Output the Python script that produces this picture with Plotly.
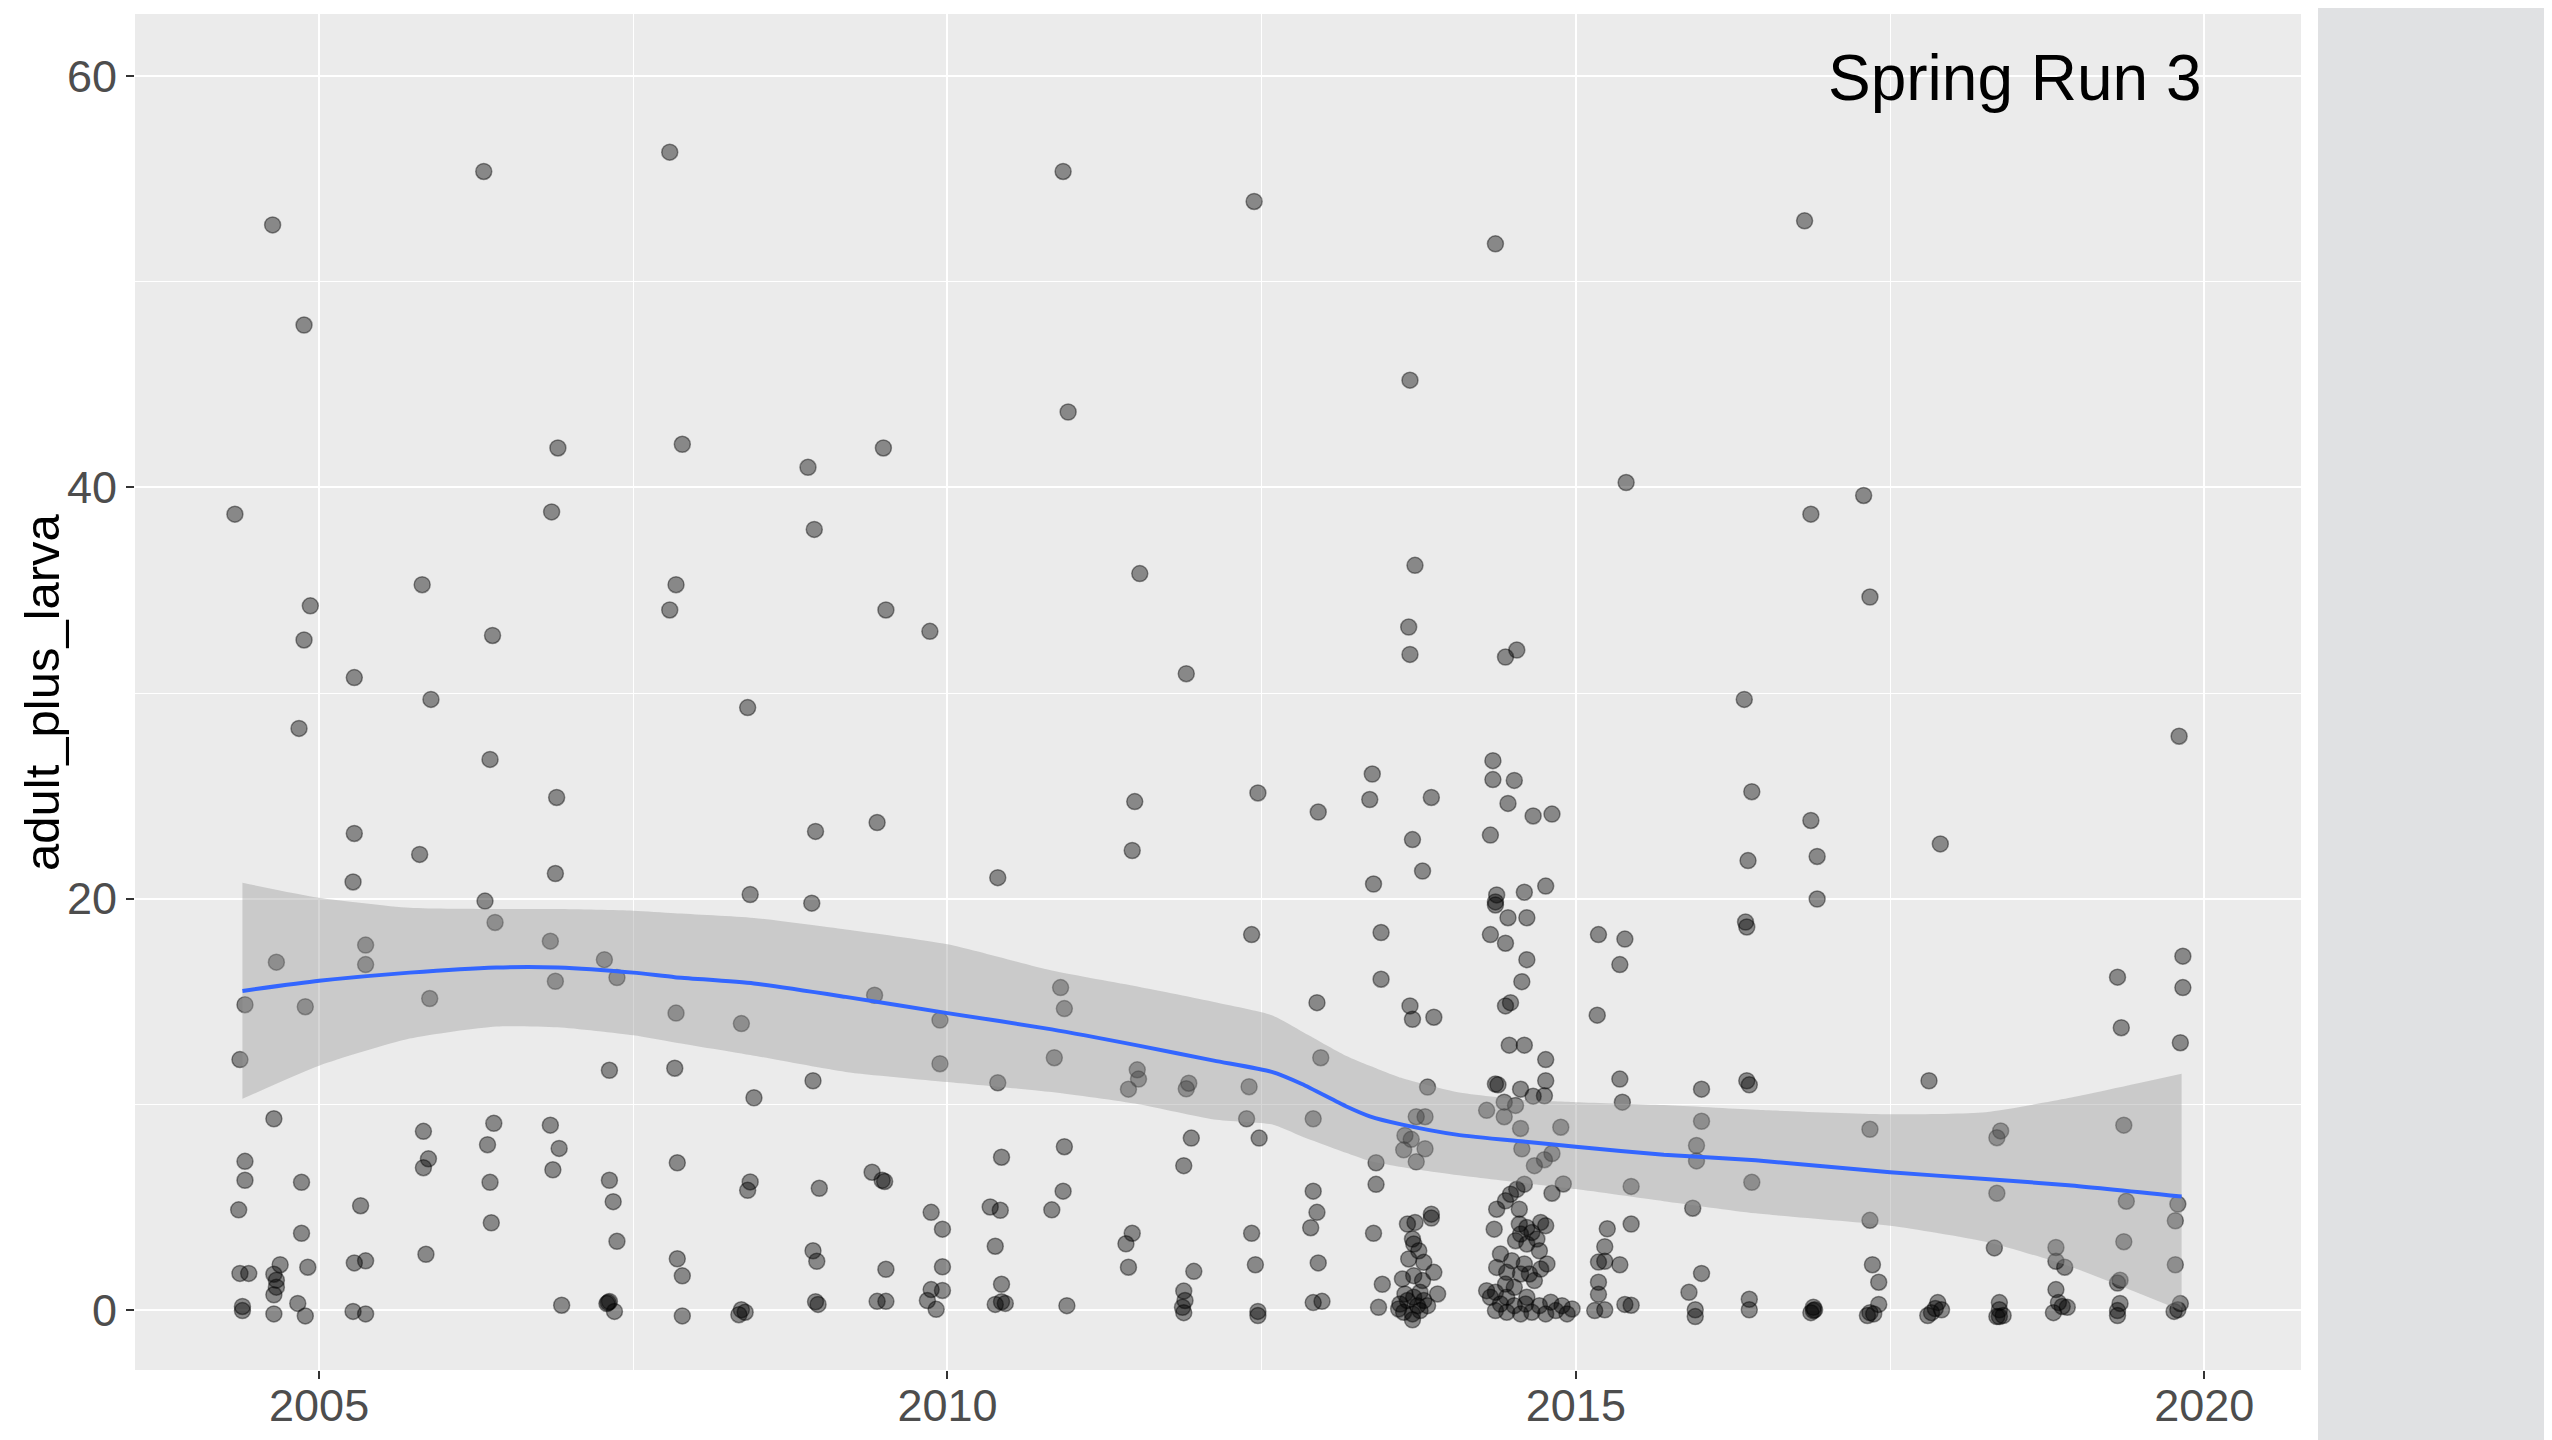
import plotly.graph_objects as go

# ---------------- data ----------------
point_year = [
    # upper part, 2004-2012
    2004.63, 2006.31, 2007.79, 2010.92, 2004.88, 2010.96, 2006.90, 2007.89, 2008.89, 2009.49,
    2004.33, 2006.85, 2008.94, 2011.53, 2005.82, 2007.84, 2004.93, 2007.79, 2009.51, 2009.86,
    2004.88, 2006.38, 2005.28, 2011.90, 2005.89, 2008.41, 2004.84,
    # upper part, 2012-2020
    2012.44, 2014.36, 2016.82, 2013.68, 2015.40, 2017.29, 2016.87, 2013.72, 2017.34, 2013.67,
    2013.68, 2014.44, 2014.53, 2016.34, 2019.80,
    # lower part, 2004-2008
    2006.36, 2006.89, 2005.28, 2005.80, 2006.88, 2005.27, 2006.32, 2006.40, 2005.37, 2005.37,
    2004.66, 2006.84, 2007.27, 2007.37, 2006.88, 2004.41, 2004.89, 2005.88, 2004.37, 2007.31,
    2004.64, 2005.83, 2006.39, 2006.84, 2004.41, 2004.41, 2006.34, 2006.91, 2005.87, 2005.83,
    2006.86, 2004.86, 2006.36, 2007.31, 2007.34, 2004.36, 2005.33, 2006.37, 2004.86, 2007.37,
    2005.85, 2004.37, 2004.44, 2004.69, 2004.64, 2004.66, 2004.66, 2004.64, 2004.91, 2005.28,
    2005.37, 2004.39, 2004.39, 2004.64, 2004.83, 2004.89, 2005.27, 2005.37, 2006.93, 2007.30,
    2007.31, 2007.29, 2007.35,
    # lower part, 2008-2012
    2011.49, 2011.47, 2008.95, 2009.44, 2010.40, 2008.43, 2008.92, 2010.90, 2010.93, 2009.42,
    2007.84, 2008.36, 2009.94, 2009.94, 2010.85, 2007.83, 2008.93, 2010.40, 2008.46, 2011.51,
    2011.52, 2011.44, 2011.92, 2011.90, 2011.94, 2010.93, 2010.43, 2011.88, 2007.85, 2008.43,
    2008.41, 2008.98, 2009.40, 2009.48, 2009.50, 2010.92, 2009.87, 2009.96, 2010.34, 2010.42,
    2010.83, 2010.38, 2011.47, 2011.42, 2011.44, 2011.96, 2007.85, 2007.89, 2008.93, 2008.96,
    2009.51, 2009.96, 2010.43, 2009.87, 2009.96, 2009.84, 2009.91, 2007.89, 2008.36, 2008.39,
    2008.34, 2008.95, 2008.97, 2009.44, 2009.51, 2010.38, 2010.43, 2010.46, 2010.95, 2011.88,
    2011.89, 2011.87, 2011.88,
    # lower part, 2012-2016.5
    2012.47, 2012.95, 2013.38, 2013.36, 2013.85, 2014.34, 2014.34, 2014.51, 2014.46, 2014.66,
    2014.81, 2013.70, 2014.32, 2013.78, 2013.39, 2014.37, 2014.36, 2014.36, 2014.59, 2014.76,
    2014.46, 2014.61, 2012.42, 2013.45, 2014.32, 2014.44, 2014.61, 2014.57, 2013.45, 2012.94,
    2013.68, 2013.70, 2013.87, 2014.44, 2014.48, 2015.18, 2015.39, 2015.35, 2015.17, 2016.40,
    2016.37, 2016.35, 2016.36, 2014.47, 2014.59, 2012.97, 2014.76, 2012.40, 2013.82, 2014.36,
    2014.38, 2014.56, 2014.76, 2014.66, 2014.75, 2014.43, 2014.52, 2014.29, 2014.43, 2015.35,
    2015.37, 2016.00, 2016.36, 2016.38, 2012.38, 2012.91, 2012.48, 2013.73, 2013.80, 2013.64,
    2013.69, 2013.63, 2013.80, 2013.73, 2014.56, 2014.57, 2014.88, 2016.00, 2015.96, 2015.96,
    2014.81, 2014.75, 2014.67, 2013.41, 2013.41, 2012.91, 2012.94, 2012.89, 2012.42, 2013.39,
    2012.45, 2012.95, 2012.91, 2012.98, 2012.47, 2012.47, 2013.46, 2013.43, 2014.90, 2014.81,
    2015.44, 2015.93, 2016.40, 2015.25, 2015.44, 2015.23, 2015.23, 2015.18, 2015.35, 2015.18,
    2015.18, 2015.15, 2015.23, 2015.39, 2015.44, 2016.00, 2015.90, 2015.95, 2015.95, 2016.38,
    2016.38,
    # dense cluster, late 2013
    2013.85, 2013.85, 2013.66, 2013.72, 2013.70, 2013.71, 2013.75, 2013.67, 2013.79, 2013.87,
    2013.62, 2013.71, 2013.78, 2013.90, 2013.64, 2013.76, 2013.60, 2013.66, 2013.71, 2013.79,
    2013.82, 2013.63, 2013.70, 2013.76, 2013.70, 2013.59, 2013.74,
    # dense cluster, 2014
    2014.59, 2014.53, 2014.48, 2014.44, 2014.37, 2014.55, 2014.35, 2014.55, 2014.61, 2014.72,
    2014.76, 2014.56, 2014.65, 2014.69, 2014.52, 2014.61, 2014.40, 2014.71, 2014.49, 2014.59,
    2014.77, 2014.72, 2014.37, 2014.45, 2014.56, 2014.67, 2014.63, 2014.29, 2014.36, 2014.44,
    2014.51, 2014.36, 2014.40, 2014.45, 2014.51, 2014.56, 2014.60, 2014.65, 2014.71, 2014.76,
    2014.80, 2014.84, 2014.89, 2014.93, 2014.61, 2014.45, 2014.32, 2014.97,
    # lower part, 2016.5-2020
    2016.87, 2016.92, 2016.92, 2017.90, 2019.83, 2019.31, 2019.83, 2019.34, 2019.81, 2017.81,
    2017.34, 2018.38, 2018.35, 2019.36, 2018.35, 2019.38, 2019.79, 2019.77, 2017.34, 2017.36,
    2017.41, 2017.41, 2018.33, 2018.82, 2018.82, 2018.89, 2019.36, 2019.33, 2019.31, 2019.77,
    2019.33, 2019.31, 2019.31, 2019.81, 2019.79, 2019.76, 2018.82, 2018.84, 2018.87, 2018.91,
    2018.80, 2016.89, 2016.89, 2016.87, 2016.90, 2017.34, 2017.37, 2017.32, 2017.88, 2017.86,
    2017.91, 2017.80, 2017.83, 2018.37, 2018.37, 2018.35, 2018.40, 2018.37,
]

adult_plus_larva = [
    # upper part, 2004-2012
    52.77, 55.37, 56.31, 55.37, 47.90, 43.67, 41.92, 42.10, 40.98, 41.92,
    38.70, 38.81, 37.96, 35.81, 35.27, 35.27, 34.24, 34.04, 34.04, 33.00,
    32.58, 32.80, 30.75, 30.94, 29.69, 29.29, 28.28,
    # upper part, 2012-2020
    53.91, 51.85, 52.97, 45.22, 40.24, 39.61, 38.70, 36.21, 34.67, 33.21,
    31.88, 31.75, 32.09, 29.69, 27.90,
    # lower part, 2004-2008
    26.77, 24.92, 23.17, 22.15, 21.22, 20.81, 19.88, 18.84, 17.74, 16.79,
    16.91, 17.93, 17.03, 16.16, 15.98, 14.84, 14.74, 15.14, 12.17, 11.65,
    9.29, 8.68, 9.07, 8.98, 7.22, 6.30, 8.03, 7.85, 7.34, 6.91,
    6.81, 6.20, 6.20, 6.30, 5.26, 4.86, 5.06, 4.23, 3.72, 3.33,
    2.70, 1.77, 1.77, 2.19, 1.73, 1.44, 1.10, 0.73, 2.07, 2.28,
    2.38, 0.16, -0.04, -0.20, 0.31, -0.30, -0.08, -0.20, 0.22, 0.35,
    0.40, 0.30, -0.08,
    # lower part, 2008-2012
    24.72, 22.34, 23.27, 23.70, 21.02, 20.20, 19.78, 15.67, 14.65, 15.30,
    14.43, 13.92, 14.09, 11.97, 12.26, 11.75, 11.14, 11.04, 10.31, 11.67,
    11.22, 10.73, 11.02, 10.75, 8.35, 7.93, 7.42, 7.01, 7.15, 6.22,
    5.81, 5.91, 6.69, 6.30, 6.24, 5.77, 4.74, 3.92, 5.00, 4.84,
    4.86, 3.09, 3.72, 3.21, 2.07, 1.87, 2.48, 1.65, 2.87, 2.36,
    1.97, 2.09, 1.24, 0.98, 0.94, 0.45, 0.02, -0.30, 0.00, -0.12,
    -0.24, 0.39, 0.26, 0.41, 0.41, 0.26, 0.39, 0.31, 0.20, 0.91,
    0.45, 0.12, -0.14,
    # lower part, 2012-2016.5
    25.14, 24.21, 26.06, 24.82, 24.92, 26.71, 25.79, 25.75, 24.63, 24.02,
    24.11, 22.87, 23.09, 21.34, 20.71, 20.18, 19.84, 19.69, 20.31, 20.61,
    19.07, 19.07, 18.25, 18.35, 18.25, 17.83, 17.03, 15.96, 16.08, 14.94,
    14.78, 14.13, 14.23, 14.78, 14.94, 18.25, 18.03, 16.79, 14.33, 25.20,
    21.85, 18.86, 18.62, 12.87, 12.87, 12.26, 12.17, 10.85, 10.83, 10.98,
    10.94, 10.73, 11.14, 10.39, 10.41, 10.10, 9.94, 9.70, 9.39, 11.22,
    10.10, 10.73, 11.14, 10.94, 9.29, 9.29, 8.35, 9.39, 9.39, 8.48,
    8.29, 7.78, 7.83, 7.20, 8.82, 7.83, 8.88, 9.17, 7.99, 7.24,
    7.60, 7.30, 7.01, 7.15, 6.10, 5.77, 4.74, 3.99, 3.72, 3.72,
    2.19, 2.28, 0.35, 0.41, -0.08, -0.28, 1.24, 0.12, 6.12, 5.67,
    6.00, 4.94, 6.20, 3.94, 4.17, 3.07, 2.36, 2.32, 2.19, 1.34,
    0.75, -0.04, 0.00, 0.26, 0.22, 1.77, 0.85, 0.00, -0.33, 0.51,
    0.00,
    # dense cluster, late 2013
    4.65, 4.46, 4.17, 4.25, 3.44, 3.20, 2.87, 2.47, 2.31, 1.82,
    1.50, 1.66, 1.42, 0.77, 0.77, 0.85, 0.28, 0.45, 0.61, 0.45,
    0.20, -0.12, -0.20, -0.04, -0.49, 0.04, 0.20,
    # dense cluster, 2014
    6.11, 5.86, 5.62, 5.30, 4.89, 4.89, 3.92, 4.17, 4.00, 4.25,
    4.09, 3.68, 3.76, 3.44, 3.36, 3.20, 2.71, 2.87, 2.39, 2.23,
    2.23, 1.98, 2.06, 1.82, 1.74, 1.42, 1.74, 0.93, 0.85, 1.25,
    1.09, -0.04, 0.28, -0.12, 0.20, -0.20, 0.28, -0.12, 0.20, -0.20,
    0.37, -0.04, 0.20, -0.20, 0.61, 0.61, 0.61, 0.04,
    # lower part, 2016.5-2020
    23.80, 22.05, 19.98, 22.66, 17.20, 16.18, 15.67, 13.72, 12.99, 11.14,
    8.78, 8.70, 8.37, 8.98, 5.67, 5.28, 5.14, 4.33, 4.35, 2.19,
    1.34, 0.26, 3.01, 3.03, 2.36, 2.07, 3.31, 1.44, 1.30, 2.19,
    0.31, -0.04, -0.28, 0.30, 0.00, -0.08, 0.98, 0.35, 0.16, 0.12,
    -0.14, 0.12, -0.04, -0.14, 0.00, -0.14, -0.20, -0.28, 0.35, 0.06,
    0.00, -0.28, -0.14, 0.35, -0.33, -0.33, -0.28, 0.00,
]

# loess smooth and its confidence band
smooth_year = [2004.39, 2005.00, 2005.72, 2006.41, 2006.90, 2007.50, 2007.83, 2008.46, 2009.19,
               2010.00, 2010.83, 2011.52, 2012.12, 2012.58, 2012.82, 2013.17, 2013.36, 2013.61,
               2014.05, 2014.60, 2015.00, 2015.70, 2016.43, 2017.50, 2018.26, 2018.92, 2019.82]
smooth_fit = [15.51, 16.00, 16.40, 16.65, 16.65, 16.40, 16.18, 15.87, 15.22,
              14.43, 13.64, 12.85, 12.12, 11.57, 10.98, 9.90, 9.41, 9.02,
              8.52, 8.17, 7.93, 7.54, 7.27, 6.69, 6.36, 6.06, 5.51]
smooth_hi = [20.77, 20.04, 19.55, 19.49, 19.49, 19.41, 19.29, 19.06, 18.50,
             17.78, 16.50, 15.71, 14.97, 14.33, 13.54, 12.36, 11.87, 11.28,
             10.59, 10.20, 10.10, 9.96, 9.73, 9.51, 9.61, 10.30, 11.48]
smooth_lo = [10.26, 11.87, 13.19, 13.78, 13.74, 13.35, 13.00, 12.36, 11.57,
             11.08, 10.59, 10.00, 9.26, 9.02, 8.43, 7.64, 7.24, 6.95,
             6.56, 6.16, 5.87, 5.28, 4.69, 4.09, 3.31, 2.13, -0.04]

x_tick_vals = [2005, 2010, 2015, 2020]
y_tick_vals = [0, 20, 40, 60]
panel_label = "Spring Run 3"
y_label = "adult_plus_larva"

# ---------------- figure ----------------
FONT = "Liberation Sans, Arial, sans-serif"
# the page body has an 8px default margin, so the figure is 8px smaller
FIG_W, FIG_H = 2544, 1432
M_L, M_R, M_T, M_B = 127, 251, 6, 70
PLOT_W = FIG_W - M_L - M_R
PLOT_H = FIG_H - M_T - M_B

fig = go.Figure()

fig.add_trace(go.Scatter(
    x=point_year, y=adult_plus_larva, mode="markers",
    marker=dict(size=16, color="rgba(0,0,0,0.42)",
                line=dict(color="rgba(0,0,0,0.42)", width=1.5)),
    hoverinfo="x+y", showlegend=False,
))

fig.add_trace(go.Scatter(
    x=smooth_year, y=smooth_lo, mode="lines",
    line=dict(width=0, color="rgba(0,0,0,0)", shape="spline", smoothing=0.6),
    showlegend=False, hoverinfo="skip",
))
fig.add_trace(go.Scatter(
    x=smooth_year, y=smooth_hi, mode="lines", fill="tonexty",
    fillcolor="rgba(153,153,153,0.4)",
    line=dict(width=0, color="rgba(0,0,0,0)", shape="spline", smoothing=0.6),
    showlegend=False, hoverinfo="skip",
))
fig.add_trace(go.Scatter(
    x=smooth_year, y=smooth_fit, mode="lines",
    line=dict(color="#3366FF", width=4, shape="spline", smoothing=0.6),
    showlegend=False, hoverinfo="skip",
))

fig.update_layout(
    width=FIG_W, height=FIG_H,
    margin=dict(l=M_L, r=M_R, t=M_T, b=M_B, autoexpand=False),
    paper_bgcolor="white",
    plot_bgcolor="#EBEBEB",
    font=dict(family=FONT, color="#4D4D4D"),
    showlegend=False,
)

fig.update_xaxes(
    range=[2003.535, 2020.77],
    tickmode="array", tickvals=x_tick_vals, ticktext=[str(v) for v in x_tick_vals],
    ticks="outside", ticklen=8, tickwidth=2, tickcolor="#333333",
    tickfont=dict(size=45, color="#4D4D4D", family=FONT),
    ticklabelstandoff=-12,
    showgrid=True, gridcolor="white", gridwidth=2.2,
    minor=dict(tickmode="array", tickvals=[2002.5, 2007.5, 2012.5, 2017.5],
               showgrid=True, gridcolor="white", gridwidth=1.1, ticks=""),
    zeroline=False, showline=False, automargin=False,
)
fig.update_yaxes(
    range=[-2.93, 63.03],
    tickmode="array", tickvals=y_tick_vals, ticktext=[str(v) for v in y_tick_vals],
    ticks="outside", ticklen=8, tickwidth=2, tickcolor="#333333",
    tickfont=dict(size=45, color="#4D4D4D", family=FONT),
    showgrid=True, gridcolor="white", gridwidth=2.2,
    minor=dict(tickmode="array", tickvals=[10, 30, 50],
               showgrid=True, gridcolor="white", gridwidth=1.1, ticks=""),
    zeroline=False, showline=False, automargin=False,
)

# y-axis title, placed where the reference has it
fig.add_annotation(
    x=(34 - M_L) / PLOT_W, y=0.5, xref="paper", yref="paper",
    text=y_label, textangle=-90, showarrow=False,
    xanchor="center", yanchor="middle",
    font=dict(size=49, color="black", family=FONT),
)

fig.add_annotation(
    x=2020, y=59.9, xref="x", yref="y", text=panel_label, showarrow=False,
    xanchor="right", yanchor="middle",
    font=dict(size=64, color="black", family=FONT),
)

# textured grey strip on the right of the slide
fig.add_shape(
    type="rect", xref="paper", yref="paper",
    x0=(2310 - M_L) / PLOT_W, x1=1.13, y0=-0.07, y1=1.03,
    fillcolor="#E0E1E3", line=dict(width=0), layer="below",
)

fig.write_html("out.html")
